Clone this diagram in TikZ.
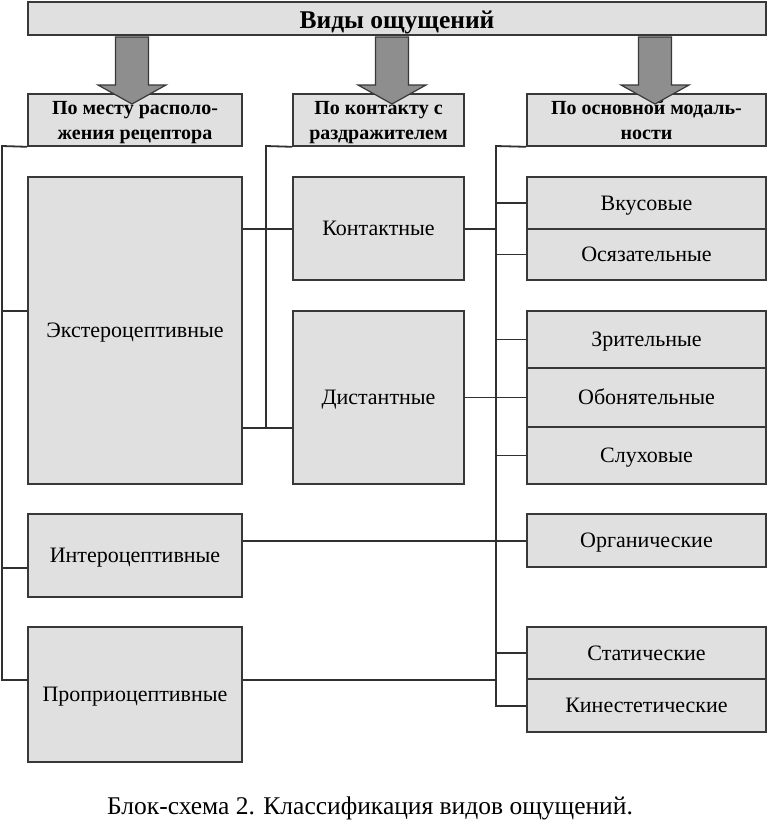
\documentclass[tikz,border=0pt]{standalone}
\usepackage{fontspec}
\setmainfont{Liberation Serif}
\usetikzlibrary{calc}
\definecolor{boxfill}{HTML}{E0E0E0}
\definecolor{boxline}{HTML}{383838}
\definecolor{wirecol}{HTML}{303030}
\definecolor{arrowfill}{HTML}{8E8E8E}
\begin{document}
\begin{tikzpicture}[x=1pt,y=-1pt,
  box/.style={draw=boxline, line width=1.6pt, fill=boxfill, inner sep=0pt,
    font=\fontsize{22}{26}\selectfont, text height=14.5pt, text depth=0pt},
  hdr/.style={box, align=center, font=\bfseries\fontsize{20}{25}\selectfont,
    text height=38.2pt, text depth=0pt},
  wire/.style={draw=wirecol, line width=1.8pt},
  bigarrow/.style={draw=boxline, line width=1.2pt, fill=arrowfill, line join=miter}]
\useasboundingbox[fill=white] (0,0) rectangle (768,820);
% title and headers
\node[box, minimum width=738pt, minimum height=33pt, font=\bfseries\fontsize{25.5}{28}\selectfont,
  text height=16.8pt, text depth=0pt] (title) at (397,18.5) {\raisebox{-1.5pt}{Виды ощущений}};
\node[hdr, minimum width=214pt, minimum height=52pt] (h1) at (135,120) {По месту располо-\\жения рецептора};
\node[hdr, minimum width=171pt, minimum height=52pt] (h2) at (378.5,120) {По контакту с\\раздражителем};
\node[hdr, minimum width=239pt, minimum height=52pt] (h3) at (646.5,120) {По основной модаль-\\ности};
% arrows
\foreach \cx in {132,392,655}{
  \draw[bigarrow] (\cx-16.5,37) -- (\cx+16.5,37) -- (\cx+16.5,85) -- (\cx+34,85)
    -- (\cx,104) -- (\cx-34,85) -- (\cx-16.5,85) -- cycle;
}
% left column
\node[box, minimum width=214pt, minimum height=307pt] (ext) at (135,330.5) {Экстероцептивные};
\node[box, minimum width=214pt, minimum height=83pt] (inter) at (135,555.5) {Интероцептивные};
\node[box, minimum width=214pt, minimum height=135pt] (prop) at (135,694.5) {Проприоцептивные};
% middle column
\node[box, minimum width=171pt, minimum height=103pt] (kont) at (378.5,228.5) {Контактные};
\node[box, minimum width=171pt, minimum height=173pt] (dist) at (378.5,397.5) {Дистантные};
% right column
\node[box, minimum width=239pt, minimum height=52pt] (vkus) at (646.5,203) {Вкусовые};
\node[box, minimum width=239pt, minimum height=51pt] (osyaz) at (646.5,254.5) {Осязательные};
\node[box, minimum width=239pt, minimum height=57pt] (zrit) at (646.5,339.5) {Зрительные};
\node[box, minimum width=239pt, minimum height=59pt] (obon) at (646.5,397.5) {Обонятельные};
\node[box, minimum width=239pt, minimum height=57pt] (sluh) at (646.5,455.5) {Слуховые};
\node[box, minimum width=239pt, minimum height=53pt] (org) at (646.5,540.5) {Органические};
\node[box, minimum width=239pt, minimum height=52pt] (stat) at (646.5,653) {Статические};
\node[box, minimum width=239pt, minimum height=53pt] (kin) at (646.5,705.5) {Кинестетические};
% bus coordinates
\coordinate (LB1) at (2,146);
\coordinate (LB2) at (2,311);
\coordinate (LB3) at (2,568);
\coordinate (LB4) at (2,680);
\coordinate (MB1) at (266,146);
\coordinate (MB2) at (266,229);
\coordinate (MB3) at (266,428);
\coordinate (RB1) at (496,146);
\coordinate (RB2) at (496,680);
\coordinate (RB3) at (496,706);
\coordinate (OR) at (496,541);
% left bus
\draw[wire] (h1.south west) -- (LB1) -- (LB4) -- (prop.west |- LB4);
\draw[wire] (LB2) -- (ext.west |- LB2);
\draw[wire] (LB3) -- (inter.west |- LB3);
% middle bus
\draw[wire] (h2.south west) -- (MB1) -- (MB3);
\draw[wire] (ext.east |- MB2) -- (kont.west |- MB2);
\draw[wire] (ext.east |- MB3) -- (dist.west |- MB3);
% right bus
\draw[wire] (h3.south west) -- (RB1) -- (RB3) -- (kin.west |- RB3);
\draw[wire] (RB1 |- vkus.west) -- (vkus.west);
\draw[wire] (RB1 |- osyaz.west) -- (osyaz.west);
\draw[wire] (kont.east |- MB2) -- (RB1 |- MB2);
\draw[wire] (RB1 |- zrit.west) -- (zrit.west);
\draw[wire] (dist.east |- obon.west) -- (obon.west);
\draw[wire] (RB1 |- sluh.west) -- (sluh.west);
\draw[wire] (inter.east |- OR) -- (org.west |- OR);
\draw[wire] (prop.east |- RB2) -- (RB2);
\draw[wire] (RB1 |- stat.west) -- (stat.west);
% caption
\node[font=\fontsize{25.5}{28}\selectfont, inner sep=0pt, text height=16.8pt, text depth=0pt] (cap) at (370,806.5) {Блок-схема 2. Классификация видов ощущений.};
\end{tikzpicture}
\end{document}
